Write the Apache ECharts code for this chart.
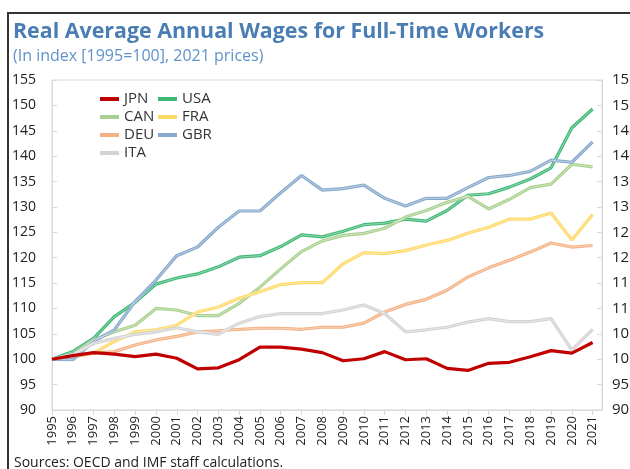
<!DOCTYPE html>
<html>
<head>
<meta charset="utf-8">
<script src="https://cdn.jsdelivr.net/npm/echarts@6/dist/echarts.min.js"></script>
<style>
  html, body { margin: 0; padding: 0; background: #fff; }
  #chart { width: 630px; height: 469px; }
</style>
</head>
<body>
<div id="chart"></div>
<script>
// 1995 = 100
const years = [1995, 1996, 1997, 1998, 1999, 2000, 2001, 2002, 2003, 2004, 2005, 2006, 2007, 2008,
  2009, 2010, 2011, 2012, 2013, 2014, 2015, 2016, 2017, 2018, 2019, 2020, 2021];

const jpn = [100, 100.7, 101.3, 101.0, 100.5, 101.0, 100.2, 98.1, 98.3, 99.9, 102.4, 102.4, 102.0, 101.3,
  99.7, 100.1, 101.5, 99.9, 100.1, 98.2, 97.8, 99.2, 99.4, 100.5, 101.7, 101.2, 103.3];
const usa = [100, 101.5, 104.1, 108.4, 111.2, 114.8, 116.0, 116.8, 118.2, 120.1, 120.4, 122.2, 124.5, 124.1,
  125.2, 126.5, 126.8, 127.6, 127.2, 129.3, 132.3, 132.6, 133.9, 135.5, 137.7, 145.6, 149.3];
const can = [100, 100.9, 103.8, 105.4, 106.7, 110.0, 109.7, 108.6, 108.6, 111.0, 114.2, 117.8, 121.2, 123.3,
  124.4, 124.8, 125.8, 128.0, 129.3, 130.9, 132.1, 129.6, 131.5, 133.8, 134.5, 138.4, 137.9];
const fra = [100, 100.5, 101.2, 103.5, 105.4, 105.8, 106.7, 109.3, 110.3, 112.0, 113.3, 114.7, 115.1, 115.1,
  118.8, 121.0, 120.8, 121.4, 122.5, 123.4, 124.8, 126.0, 127.6, 127.6, 128.8, 123.5, 128.5];
const deu = [100, 100.5, 101.2, 101.5, 102.8, 103.8, 104.5, 105.4, 105.6, 105.9, 106.1, 106.1, 105.9, 106.3,
  106.3, 107.1, 109.3, 110.8, 111.8, 113.6, 116.2, 118.0, 119.5, 121.1, 122.9, 122.1, 122.4];
const gbr = [100, 99.9, 103.5, 105.8, 111.4, 115.6, 120.4, 122.1, 126.0, 129.2, 129.2, 132.8, 136.2, 133.3,
  133.6, 134.3, 131.7, 130.2, 131.7, 131.7, 133.8, 135.8, 136.2, 137.0, 139.2, 138.8, 142.8];
const ita = [100, 100.9, 103.1, 104.1, 104.9, 105.4, 106.2, 105.4, 104.9, 107.1, 108.4, 109.0, 109.0, 109.0,
  109.7, 110.7, 109.0, 105.4, 105.8, 106.3, 107.3, 108.0, 107.4, 107.4, 108.0, 101.8, 105.9];

const countries = ['JPN', 'USA', 'CAN', 'FRA', 'DEU', 'GBR', 'ITA'];
const values = [jpn, usa, can, fra, deu, gbr, ita];
const colors = ['#c00000', '#3fb876', '#a9d08e', '#ffd966', '#f4b183', '#88a9cd', '#d3d3d3'];

const font = '"Open Sans", "Noto Sans", sans-serif';

const chart = echarts.init(document.getElementById('chart'));

const series = [];
countries.forEach((name, i) => {
  const data = years.map((y, j) => [y, values[i][j]]);
  series.push({
    name: name,
    type: 'line',
    symbol: 'none',
    data: data,
    lineStyle: { width: 3.2, color: colors[i] },
    itemStyle: { color: colors[i] },
    z: name === 'JPN' ? 4 : 2,
  });
  // excel style double line: light core on top of the coloured stroke
  if (name !== 'JPN') {
    series.push({
      name: name + '-core',
      type: 'line',
      symbol: 'none',
      silent: true,
      data: data,
      lineStyle: { width: 0.8, color: '#fff', opacity: 0.55 },
      z: 3,
    });
  }
});

const legendBase = {
  orient: 'vertical',
  top: 85,
  itemWidth: 19,
  itemHeight: 4,
  itemGap: 0,
  icon: 'rect',
  textStyle: { fontFamily: font, fontSize: 15, color: '#333', lineHeight: 18 },
};

const yAxisBase = {
  type: 'value',
  min: 90,
  max: 155,
  interval: 5,
  splitLine: { show: false },
  axisLine: { show: true, lineStyle: { color: '#d9d9d9' } },
  axisTick: { show: true, inside: true, length: 5, lineStyle: { color: '#d9d9d9' } },
  axisLabel: { fontFamily: font, fontSize: 14, color: '#222' },
};

chart.setOption({
  animation: false,
  color: colors,
  title: [
    {
      text: 'Real Average Annual Wages for Full-Time Workers',
      subtext: '(In index [1995=100], 2021 prices)',
      left: 13,
      top: 21,
      itemGap: 6,
      padding: 0,
      textStyle: { fontFamily: font, fontSize: 21.4, fontWeight: 'bold', color: '#4a7db3' },
      subtextStyle: { fontFamily: font, fontSize: 16, color: '#5f93c9' },
    },
    {
      text: 'Sources: OECD and IMF staff calculations.',
      left: 14,
      top: 456,
      padding: 0,
      textStyle: { fontFamily: font, fontSize: 14, fontWeight: 'normal', color: '#222' },
    },
  ],
  legend: [
    Object.assign({}, legendBase, { left: 95, data: ['JPN', 'CAN', 'DEU', 'ITA'] }),
    Object.assign({}, legendBase, { left: 153, data: ['USA', 'FRA', 'GBR'] }),
  ],
  grid: {
    left: 52,
    right: 28,
    top: 80,
    bottom: 59,
    outerBoundsMode: 'none',
    show: true,
    borderColor: '#d9d9d9',
    borderWidth: 1,
  },
  xAxis: {
    type: 'value',
    min: 1995,
    max: 2021.45,
    interval: 1,
    splitLine: { show: false },
    axisLine: { show: true, lineStyle: { color: '#d9d9d9' } },
    axisTick: { show: true, length: 5, lineStyle: { color: '#d9d9d9' } },
    axisLabel: {
      rotate: 90,
      fontFamily: font,
      fontSize: 13,
      color: '#222',
      margin: 6,
      showMaxLabel: false,
      formatter: (v) => (Number.isInteger(v) ? String(v) : ''),
    },
  },
  yAxis: [
    Object.assign({}, yAxisBase, { position: 'left', axisLabel: Object.assign({}, yAxisBase.axisLabel, { margin: 16 }) }),
    Object.assign({}, yAxisBase, { position: 'right', axisLabel: Object.assign({}, yAxisBase.axisLabel, { margin: 10, fontSize: 15 }) }),
  ],
  graphic: [
    {
      type: 'polyline',
      silent: true,
      shape: { points: [[8, 469], [8, 13], [630, 13]] },
      style: { stroke: '#333', lineWidth: 2, fill: null },
    },
  ],
  series: series,
});
</script>
</body>
</html>
